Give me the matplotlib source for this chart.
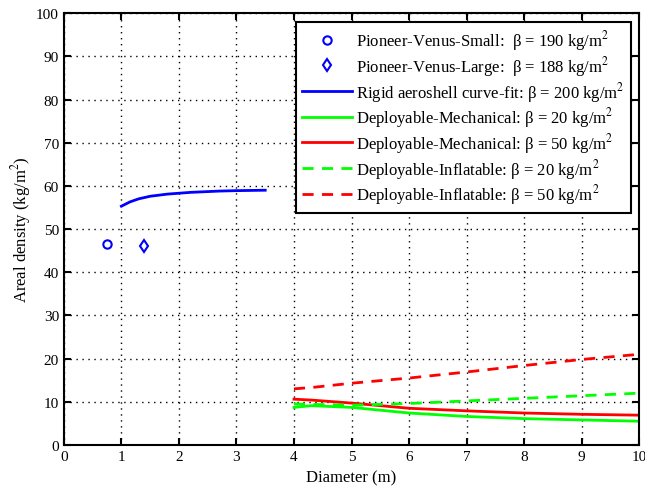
import numpy as np
import matplotlib
matplotlib.use('Agg')
import matplotlib.pyplot as plt

plt.rcParams['font.family'] = 'Liberation Serif'
plt.rcParams['mathtext.fontset'] = 'stix'

# Pioneer Venus probes
pv_small = (0.75, 46.5)
pv_large = (1.4, 46.0)

# rigid aeroshell curve-fit
rigid_d = [1.0, 1.15, 1.3, 1.5, 1.8, 2.2, 2.7, 3.0, 3.5]
rigid_m = [55.3, 56.3, 57.0, 57.6, 58.1, 58.5, 58.8, 58.9, 59.0]

# deployable concepts
dep_d = [4, 4.3, 5, 6, 7, 8, 9, 10]
mech20 = [8.7, 9.1, 8.7, 7.4, 6.6, 6.1, 5.8, 5.5]
mech50 = [10.6, 10.4, 9.7, 8.5, 7.9, 7.4, 7.1, 6.9]
infl20 = [9.5, 9.4, 9.2, 9.6, 10.2, 10.8, 11.4, 12.0]
infl50 = [13.0, 13.3, 14.3, 15.5, 16.9, 18.4, 19.8, 21.0]

fig = plt.figure(figsize=(6.45, 4.89), dpi=100)
ax = fig.add_axes([0.099, 0.088, 0.892, 0.883])

ax.plot(pv_small[0], pv_small[1], 'o', mfc='none', mec='b', mew=1.5, ms=6,
        ls='none', label=r'Pioneer-Venus-Small:  β = 190 kg/m$^2$')
ax.plot(pv_large[0], pv_large[1], 'd', mfc='none', mec='b', mew=1.5, ms=6,
        ls='none', label=r'Pioneer-Venus-Large:  β = 188 kg/m$^2$')
ax.plot(rigid_d, rigid_m, color='b', lw=2, label=r'Rigid aeroshell curve-fit: β = 200 kg/m$^2$')
ax.plot(dep_d, mech20, color='#00ff00', lw=2, label=r'Deployable-Mechanical: β = 20 kg/m$^2$')
ax.plot(dep_d, mech50, color='r', lw=2, label=r'Deployable-Mechanical: β = 50 kg/m$^2$')
ax.plot(dep_d, infl20, color='#00ff00', lw=2, ls=(0, (4, 3)), label=r'Deployable-Inflatable: β = 20 kg/m$^2$')
ax.plot(dep_d, infl50, color='r', lw=2, ls=(0, (4, 3)), label=r'Deployable-Inflatable: β = 50 kg/m$^2$')

ax.set_xlim(0, 10)
ax.set_ylim(0, 100)
ax.set_xticks(range(0, 11))
ax.set_yticks(range(0, 101, 10))
ax.grid(True, color='k', ls=(0, (1, 3.3)), lw=1)
ax.tick_params(direction='in', top=True, right=True, labelsize=11, length=5, width=1.5)
for s in ax.spines.values():
    s.set_linewidth(1.5)

ax.set_xlabel('Diameter (m)', fontsize=12, labelpad=5)
ax.set_ylabel(r'Areal density (kg/m$^2$)', fontsize=12, labelpad=2)

leg = ax.legend(loc='upper right', fontsize=12, handlelength=3, labelspacing=0.1,
                fancybox=False, framealpha=1, edgecolor='k', borderaxespad=0.5,
                handletextpad=0.2, borderpad=0.4)
leg.get_frame().set_linewidth(1.5)

fig.savefig('out.png', dpi=100)
